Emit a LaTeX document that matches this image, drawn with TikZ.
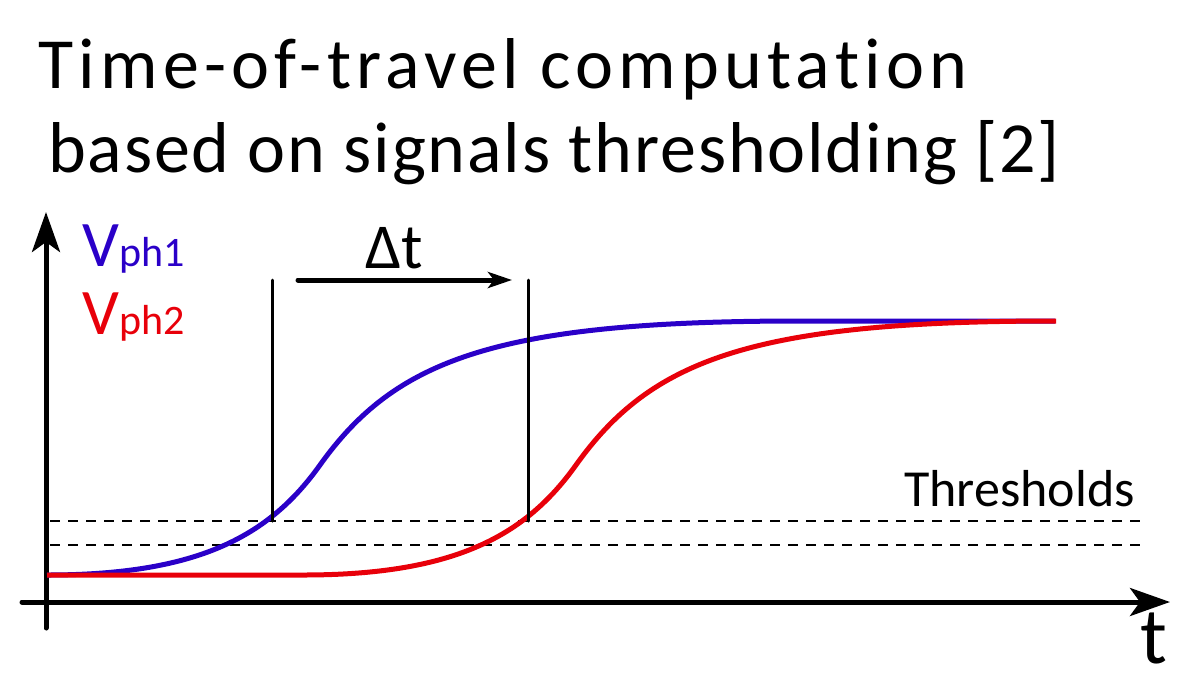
\documentclass[tikz,border=0pt]{standalone}
\usepackage{fontspec}
\setmainfont{Carlito}[Ligatures=NoCommon]
\newfontfamily\titlea{Carlito}[LetterSpace=7.3,Ligatures=NoCommon]
\newfontfamily\titleb{Carlito}[LetterSpace=2.6,Ligatures=NoCommon]
\usetikzlibrary{arrows.meta}

\definecolor{phblue}{RGB}{42,0,200}
\definecolor{phred}{RGB}{232,0,10}

\tikzset{
  axis/.style={line width=5pt,-{Stealth[length=40pt,width=28pt,inset=10pt]}},
  marker/.style={line width=3pt},
  thres/.style={line width=2.5pt,dash pattern=on 10pt off 8pt,line cap=butt},
  signal/.style={line width=5pt,line cap=butt},
  lbl/.style={inner sep=0pt,anchor=base west}
}

\begin{document}
\begin{tikzpicture}[x=1pt,y=-1pt,line cap=round]
  \useasboundingbox (0,0) rectangle (1178,673);

  % title
  \node[lbl,font=\titlea\fontsize{72}{80}\selectfont] (title1) at (38,88)
    {Time-of-travel computation};
  \node[lbl,font=\titleb\fontsize{72}{80}\selectfont] (title2) at (48,172)
    {based on signals thresholding [2]};

  % axes
  \coordinate (o) at (46,602);
  \coordinate (ybot) at (46,628);
  \coordinate (ytop) at (46,212);
  \coordinate (xleft) at (22,602);
  \coordinate (xright) at (1170,602);
  \draw[axis] (ybot) -- (ytop);
  \draw[axis] (xleft) -- (xright);
  \node[lbl,font=\fontsize{80}{80}\selectfont] (tlab) at (1140,663) {t};

  % thresholds
  \draw[thres] (50,521) -- (1142,521);
  \draw[thres] (50,545) -- (1142,545);
  \node[lbl,font=\fontsize{52}{52}\selectfont] (thr) at (904,506) {Thresholds};

  % signals
  \draw[signal,phblue] (47,575) .. controls (200,575) and (270,535) .. (320,465)
    .. controls (395,360) and (495,321) .. (800,321) -- (1055,321);
  \draw[signal,phred] (47,575) -- (303,575) .. controls (456,575) and (526,535) .. (576,465)
    .. controls (651,360) and (751,321) .. (1056,321);

  % crossing markers and delay
  \coordinate (c1) at (272,521);
  \coordinate (c2) at (528,521);
  \draw[marker] (c1) -- (272,280);
  \draw[marker] (c2) -- (528,280);
  \draw[line width=5pt,-{Stealth[length=24pt,width=16pt,inset=6pt]}] (298,280) -- (512,280);
  \node[lbl,font=\fontsize{64}{64}\selectfont] (dt) at (365,268) {Δt};

  % legend
  \node[lbl,phblue] (v1) at (82,266)
    {\fontsize{65}{65}\selectfont V\fontsize{42}{42}\selectfont ph1};
  \node[lbl,phred] (v2) at (82,334)
    {\fontsize{65}{65}\selectfont V\fontsize{42}{42}\selectfont ph2};
\end{tikzpicture}
\end{document}
